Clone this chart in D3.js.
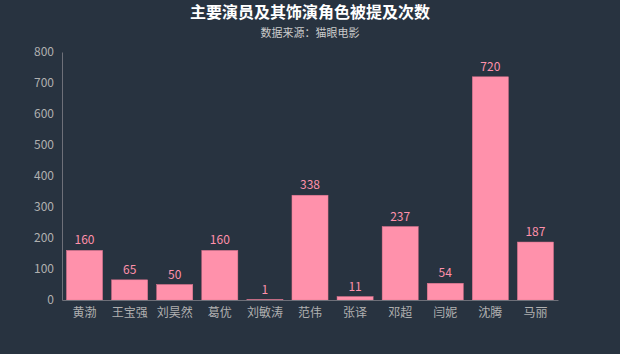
<!DOCTYPE html>
<html><head><meta charset="utf-8">
<script src="https://cdn.jsdelivr.net/npm/d3@7/dist/d3.min.js"></script>
<style>
html,body{margin:0;padding:0;background:#283340;}
svg{display:block;}
text{font-family:"Microsoft YaHei","Noto Sans CJK SC",sans-serif;}
</style></head><body>
<svg id="c" width="620" height="354"></svg>
<script>
const categories = ["黄渤","王宝强","刘昊然","葛优","刘敏涛","范伟","张译","邓超","闫妮","沈腾","马丽"];
const values = [160,65,50,160,1,338,11,237,54,720,187];
const yTicks = [0,100,200,300,400,500,600,700,800];
const title = "主要演员及其饰演角色被提及次数";
const subtitle = "数据来源：猫眼电影";
(function(){
const svg = d3.select("#c");
svg.append("rect").attr("width",620).attr("height",354).attr("fill","#283340");
const mLeft=62, mRight=558, mTop=52, mBottom=300;
const x = d3.scaleBand().domain(categories).range([mLeft,mRight]).paddingInner(0.2).paddingOuter(0.1);
const y = d3.scaleLinear().domain([0,800]).range([mBottom,mTop]);

svg.append("text").attr("x",310).attr("y",18).attr("text-anchor","middle")
  .attr("fill","#ffffff").attr("font-size",16).attr("font-weight","bold").text(title);
svg.append("text").attr("x",310).attr("y",37).attr("text-anchor","middle")
  .attr("fill","#cccccc").attr("font-size",11).text(subtitle);

const yAxis = svg.append("g").attr("transform",`translate(${mLeft},0)`)
  .call(d3.axisLeft(y).tickValues(yTicks).tickSize(0).tickPadding(8));
yAxis.select(".domain").attr("stroke","#6e7079");
yAxis.selectAll("text").attr("fill","#b0b0b0").attr("font-size",12);

svg.append("g").selectAll("rect").data(values).join("rect")
  .attr("x",(d,i)=>x(categories[i]))
  .attr("y",d=>y(d))
  .attr("width",x.bandwidth())
  .attr("height",d=>mBottom-y(d))
  .attr("fill","#ff91ab").attr("stroke","#e0758f").attr("stroke-width",0.5);

svg.append("g").selectAll("text").data(values).join("text")
  .attr("x",(d,i)=>x(categories[i])+x.bandwidth()/2)
  .attr("y",d=>y(d)-6)
  .attr("text-anchor","middle").attr("fill","#ff91ab").attr("font-size",12)
  .text(d=>d);

const xAxis = svg.append("g").attr("transform",`translate(0,${mBottom})`)
  .call(d3.axisBottom(x).tickSize(0).tickPadding(8));
xAxis.select(".domain").attr("stroke","#6e7079");
xAxis.selectAll("text").attr("fill","#b0b0b0").attr("font-size",12);
})();
</script>
</body></html>
